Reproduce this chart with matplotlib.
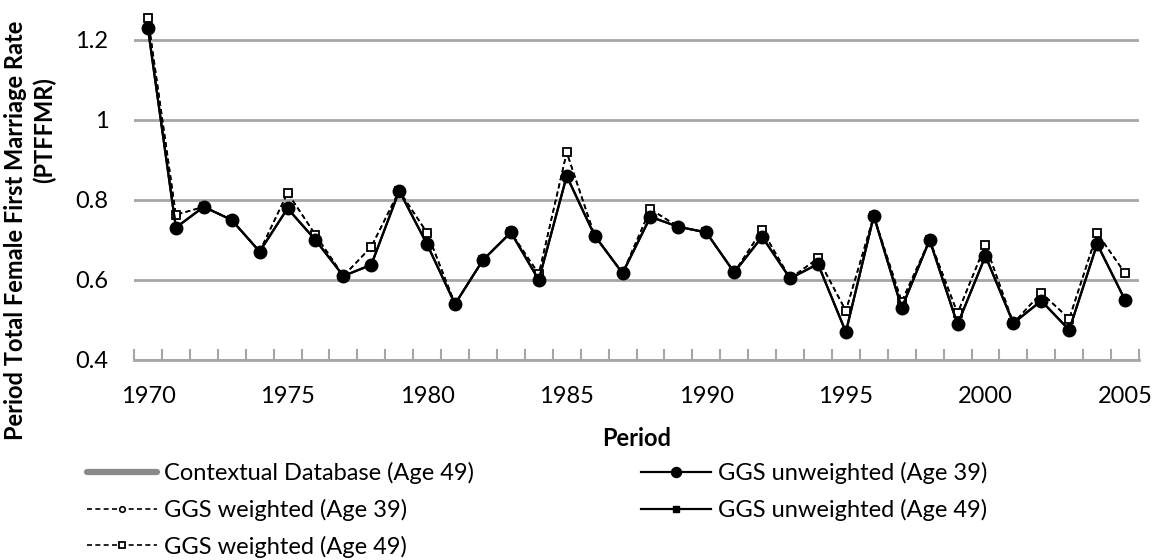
import matplotlib
matplotlib.use("Agg")
import matplotlib.pyplot as plt
from matplotlib.ticker import FixedLocator

plt.rcParams["font.family"] = ["Lato", "DejaVu Sans"]

years = list(range(1970, 2006))

# GGS unweighted (filled markers)
unweighted_39 = [1.229, 0.731, 0.783, 0.750, 0.671, 0.779, 0.700, 0.610, 0.638, 0.823,
                 0.689, 0.540, 0.650, 0.719, 0.600, 0.860, 0.711, 0.617, 0.758, 0.733,
                 0.719, 0.619, 0.708, 0.604, 0.640, 0.470, 0.760, 0.530, 0.700, 0.489,
                 0.660, 0.492, 0.548, 0.475, 0.690, 0.550]
unweighted_49 = [1.229, 0.731, 0.783, 0.750, 0.671, 0.779, 0.700, 0.610, 0.638, 0.823,
                 0.689, 0.540, 0.650, 0.719, 0.600, 0.860, 0.711, 0.617, 0.758, 0.733,
                 0.719, 0.619, 0.708, 0.604, 0.640, 0.470, 0.760, 0.530, 0.700, 0.489,
                 0.660, 0.492, 0.548, 0.475, 0.690, 0.550]

# GGS weighted (open markers)
weighted_39 = [1.254, 0.763, 0.783, 0.750, 0.671, 0.818, 0.713, 0.610, 0.683, 0.823,
               0.718, 0.540, 0.650, 0.719, 0.615, 0.919, 0.711, 0.617, 0.777, 0.733,
               0.719, 0.619, 0.725, 0.604, 0.654, 0.523, 0.760, 0.546, 0.700, 0.517,
               0.688, 0.492, 0.568, 0.503, 0.717, 0.617]
weighted_49 = [1.254, 0.763, 0.783, 0.750, 0.671, 0.818, 0.713, 0.610, 0.683, 0.823,
               0.718, 0.540, 0.650, 0.719, 0.615, 0.919, 0.711, 0.617, 0.777, 0.733,
               0.719, 0.619, 0.725, 0.604, 0.654, 0.523, 0.760, 0.546, 0.700, 0.517,
               0.688, 0.492, 0.568, 0.503, 0.717, 0.617]

# no points inside the plotted range, only shown in the legend
contextual_49_years = []
contextual_49 = []

y_ticks = [0.4, 0.6, 0.8, 1.0, 1.2]
y_tick_labels = ["0.4", "0.6", "0.8", "1", "1.2"]
label_years = [1970, 1975, 1980, 1985, 1990, 1995, 2000, 2005]

GRID = "#a6a6a6"
FS = 17

fig = plt.figure(figsize=(11.6, 5.6), dpi=100)
ax = fig.add_axes([134 / 1160, 1 - 360 / 560, 1005 / 1160, 360 / 560])

h_ctx, = ax.plot(contextual_49_years, contextual_49, color="#8a8a8a", lw=4.5,
                 solid_capstyle="round", label="Contextual Database (Age 49)")
h_w39, = ax.plot(years, weighted_39, color="black", lw=1.2, ls=(0, (3, 2)),
                 marker="o", ms=5, mfc="white", mec="black", mew=1.2,
                 label="GGS weighted (Age 39)", clip_on=False, zorder=3)
h_w49, = ax.plot(years, weighted_49, color="black", lw=1.2, ls=(0, (3, 2)),
                 marker="s", ms=6, mfc="white", mec="black", mew=1.3,
                 label="GGS weighted (Age 49)", clip_on=False, zorder=3)
h_u49, = ax.plot(years, unweighted_49, color="black", lw=1.6,
                 marker="s", ms=6, mfc="black", mec="black",
                 label="GGS unweighted (Age 49)", clip_on=False, zorder=4)
h_u39, = ax.plot(years, unweighted_39, color="black", lw=1.6,
                 marker="o", ms=9, mfc="black", mec="black",
                 label="GGS unweighted (Age 39)", clip_on=False, zorder=5)

ax.set_xlim(years[0] - 0.5, years[-1] + 0.5)
ax.set_ylim(0.4, 1.3)
ax.set_yticks(y_ticks)
ax.set_yticklabels(y_tick_labels)
ax.set_xticks(label_years)
ax.set_xticklabels([str(y) for y in label_years])
ax.xaxis.set_minor_locator(FixedLocator([y - 0.5 for y in years] + [years[-1] + 0.5]))
ax.tick_params(axis="x", which="major", length=0, labelsize=FS, pad=19)
ax.tick_params(axis="x", which="minor", direction="in", length=8, width=1.5, color=GRID)
ax.tick_params(axis="y", length=0, labelsize=FS, pad=18.5)

ax.grid(axis="y", color=GRID, lw=2)
ax.set_axisbelow(True)
for s in ["top", "right", "left"]:
    ax.spines[s].set_visible(False)
ax.spines["bottom"].set_color(GRID)
ax.spines["bottom"].set_linewidth(2)

ax.set_xlabel("Period", fontsize=FS, fontweight="bold", labelpad=14)

# y title: the two lines sit at different heights in the reference
fig.text(16 / 1160, 1 - 230 / 560, "Period Total Female First Marriage Rate",
         rotation=90, ha="center", va="center", fontsize=17, fontweight="bold")
fig.text(44 / 1160, 1 - 130 / 560, "(PTFFMR)",
         rotation=90, ha="center", va="center", fontsize=17, fontweight="bold")

leg_kw = dict(frameon=False, fontsize=FS, handlelength=2.96, handletextpad=0.3,
              labelspacing=0.62, borderaxespad=0, borderpad=0, numpoints=1,
              markerscale=0.8)
fig.legend(handles=[h_ctx, h_w39, h_w49], loc="upper left",
           bbox_to_anchor=(87 / 1160, 1 - 462 / 560), **leg_kw)
fig.legend(handles=[h_u39, h_u49], loc="upper left",
           bbox_to_anchor=(641 / 1160, 1 - 462 / 560), **leg_kw)

fig.savefig("out.png", dpi=100)
